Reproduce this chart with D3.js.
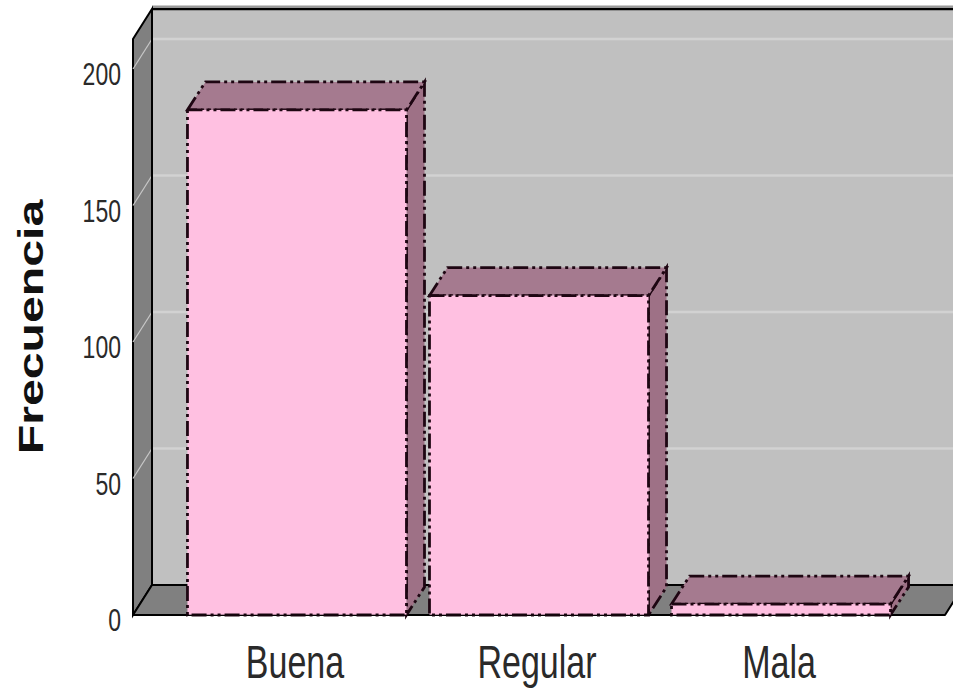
<!DOCTYPE html>
<html>
<head>
<meta charset="utf-8">
<script src="https://cdn.jsdelivr.net/npm/d3@7"></script>
<style>
  html, body { margin: 0; padding: 0; background: #ffffff; }
  svg { display: block; }
</style>
</head>
<body>
<svg id="chart" width="953" height="690"></svg>
<script>
// Frequency per category
const categories = ["Buena", "Regular", "Mala"];
const frecuencia = [185, 117, 4];
const yTicks = [0, 50, 100, 150, 200];
const yLabel = "Frecuencia";

const svg = d3.select("#chart");

// Front plane geometry and 3D depth offsets
const left = 133, right = 945, base = 615;
const depthX = 19, depthY = -30;          // wall depth
const barDepthX = 18, barDepthY = -28;    // bar depth
const stretchY = 1.34;                    // text aspect (tall glyphs)

const y = d3.scaleLinear().domain([0, 200]).range([base, 69]);
const yTop = y(211);

const x = d3.scaleBand()
  .domain(categories)
  .range([left, right])
  .paddingInner(0.095)
  .paddingOuter(0.225);

const poly = pts => pts.map(p => p.join(",")).join(" ");

// Soft shade above the back wall's top edge
svg.append("line")
  .attr("x1", left + depthX).attr("x2", 953)
  .attr("y1", yTop + depthY - 2.5).attr("y2", yTop + depthY - 2.5)
  .attr("stroke", "#9a9a9a").attr("stroke-width", 2);

// Back wall
svg.append("polygon")
  .attr("points", poly([
    [left + depthX, yTop + depthY], [right + depthX, yTop + depthY],
    [right + depthX, base + depthY], [left + depthX, base + depthY]]))
  .attr("fill", "#c0c0c0");

// Left side wall
svg.append("polygon")
  .attr("points", poly([
    [left, yTop], [left + depthX, yTop + depthY],
    [left + depthX, base + depthY], [left, base]]))
  .attr("fill", "#808080")
  .attr("stroke", "#000").attr("stroke-width", 2);

// Gridlines on back wall and side wall
const grid = svg.append("g");
yTicks.filter(t => t > 0).forEach(t => {
  grid.append("line")
    .attr("x1", left + depthX).attr("x2", right + depthX)
    .attr("y1", y(t) + depthY).attr("y2", y(t) + depthY)
    .attr("stroke", "#d2d2d2").attr("stroke-width", 2.5);
  grid.append("line")
    .attr("x1", left).attr("x2", left + depthX)
    .attr("y1", y(t)).attr("y2", y(t) + depthY)
    .attr("stroke", "#c8c8c8").attr("stroke-width", 1.2);
});

// Back wall edges
svg.append("line")
  .attr("x1", left + depthX).attr("x2", 953)
  .attr("y1", yTop + depthY).attr("y2", yTop + depthY)
  .attr("stroke", "#000").attr("stroke-width", 2.5);
svg.append("line")
  .attr("x1", left + depthX).attr("x2", left + depthX)
  .attr("y1", yTop + depthY).attr("y2", base + depthY)
  .attr("stroke", "#000").attr("stroke-width", 2);

// Floor
svg.append("polygon")
  .attr("points", poly([
    [left, base], [right, base],
    [right + depthX, base + depthY], [left + depthX, base + depthY]]))
  .attr("fill", "#808080")
  .attr("stroke", "#000").attr("stroke-width", 2)
  .attr("stroke-linejoin", "round");

// Bars
const dash = "15,4,3,4,3,4";
const edge = "#1e0612";
const bars = svg.append("g").selectAll("g")
  .data(categories.map((c, i) => ({ c, v: frecuencia[i] })))
  .join("g");

bars.each(function(d) {
  const g = d3.select(this);
  const x0 = x(d.c), x1 = x(d.c) + x.bandwidth();
  const yt = y(d.v), yb = y(0);
  // right side face
  g.append("polygon")
    .attr("points", poly([
      [x1, yt], [x1 + barDepthX, yt + barDepthY],
      [x1 + barDepthX, yb + barDepthY], [x1, yb]]))
    .attr("fill", "#9e7186")
    .attr("stroke", edge).attr("stroke-width", 2.8)
    .attr("stroke-dasharray", dash);
  // top face
  g.append("polygon")
    .attr("points", poly([
      [x0, yt], [x0 + barDepthX, yt + barDepthY],
      [x1 + barDepthX, yt + barDepthY], [x1, yt]]))
    .attr("fill", "#a57a8f")
    .attr("stroke", edge).attr("stroke-width", 2.8)
    .attr("stroke-dasharray", dash);
  // front face
  g.append("rect")
    .attr("x", x0).attr("y", yt)
    .attr("width", x1 - x0).attr("height", yb - yt)
    .attr("fill", "#ffc0e1")
    .attr("stroke", edge).attr("stroke-width", 2.8)
    .attr("stroke-dasharray", dash);
});

// Front baseline
svg.append("line")
  .attr("x1", left).attr("x2", right)
  .attr("y1", base).attr("y2", base)
  .attr("stroke", "#000").attr("stroke-width", 1.2)
  .attr("stroke-opacity", 0.6);

// Y tick labels
svg.append("g").selectAll("text")
  .data(yTicks)
  .join("text")
  .attr("transform", t => `translate(121,${y(t) + 16}) scale(1,${stretchY})`)
  .attr("text-anchor", "end")
  .attr("font-family", "'Liberation Sans', Arial, sans-serif")
  .attr("font-size", 23)
  .attr("fill", "#2a2a2a")
  .text(t => t);

// Category labels
svg.append("g").selectAll("text")
  .data(categories)
  .join("text")
  .attr("transform", c => `translate(${x(c) + x.bandwidth() / 2 - 2},678) scale(1,${stretchY})`)
  .attr("text-anchor", "middle")
  .attr("font-family", "'Liberation Sans', Arial, sans-serif")
  .attr("font-size", 34)
  .attr("fill", "#2a2a2a")
  .text(c => c);

// Y axis title
svg.append("text")
  .attr("transform", `translate(43,327) scale(1,${stretchY}) rotate(-90)`)
  .attr("text-anchor", "middle")
  .attr("font-family", "'Liberation Sans', Arial, sans-serif")
  .attr("font-weight", "bold")
  .attr("font-size", 36)
  .attr("fill", "#111")
  .text(yLabel);
</script>
</body>
</html>
